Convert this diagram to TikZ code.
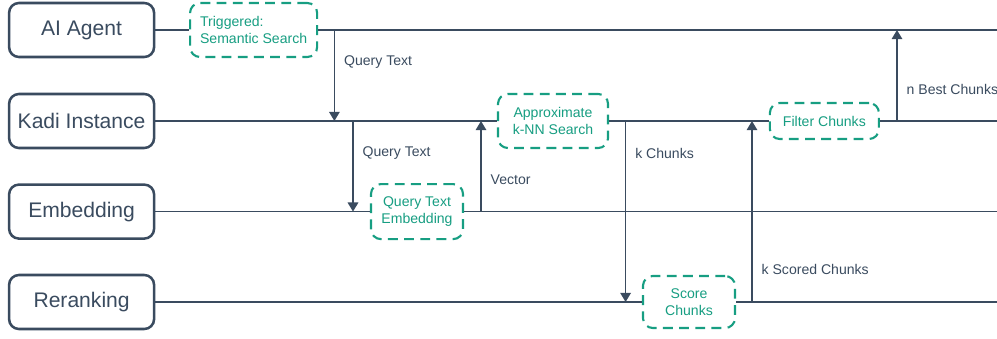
\documentclass[tikz,border=0pt]{standalone}
\usepackage{fontspec}
\setmainfont{Liberation Sans}
\usetikzlibrary{arrows.meta}
\definecolor{slate}{HTML}{3A4B5F}
\definecolor{teal}{HTML}{179E82}
\tikzset{
  actor/.style={draw=slate,line width=1.8pt,rounded corners=7pt,minimum width=3.625cm,minimum height=1.35cm,text=slate,font=\fontsize{15}{18}\selectfont},
  task/.style={draw=teal,fill=white,line width=1.5pt,dash pattern=on 7pt off 4.5pt,rounded corners=7pt,minimum height=1.35cm,text=teal,font=\fontsize{10}{12.3}\selectfont,align=center},
  life/.style={draw=slate,line width=1.1pt},
  msg/.style={draw=slate,line width=1.1pt,-{Triangle[width=7.5pt,length=6.5pt]}},
  lbl/.style={anchor=west,text=slate,font=\fontsize{10}{12}\selectfont,xshift=3pt}
}
\begin{document}
\begin{tikzpicture}
\useasboundingbox (0,0) rectangle (24.925,8.45);
\coordinate (rightedge) at (24.925,0);
% participants
\node[actor] (agent) at (2.04,7.7) {AI Agent};
\node[actor] (kadi) at (2.04,5.425) {Kadi Instance};
\node[actor] (embed) at (2.04,3.16) {Embedding};
\node[actor] (rerank) at (2.04,0.9) {Reranking};
% tasks
\node[task,minimum width=3.175cm,align=left] (trig) at (6.34,7.7) {Triggered:\\Semantic Search};
\node[task,minimum width=2.75cm] (knn) at (13.825,5.425) {Approximate\\k-NN Search};
\node[task,minimum width=2.3cm,minimum height=1.375cm] (qte) at (10.425,3.16) {Query Text\\Embedding};
\node[task,minimum width=2.725cm,minimum height=0.9cm] (filter) at (20.61,5.425) {Filter Chunks};
\node[task,minimum width=2.3cm,minimum height=1.3cm] (score) at (17.225,0.9) {Score\\Chunks};
% lifelines
\draw[life] (agent) -- (trig);
\draw[life] (trig) -- (trig -| rightedge);
\draw[life] (kadi) -- (knn);
\draw[life] (knn) -- (filter);
\draw[life] (filter) -- (filter -| rightedge);
\draw[life] (embed) -- (qte);
\draw[life] (qte) -- (qte -| rightedge);
\draw[life] (rerank) -- (score);
\draw[life] (score) -- (score -| rightedge);
% messages
\coordinate (m1) at (8.36,7.7);
\coordinate (m2) at (8.825,5.425);
\coordinate (m3) at (12.025,3.16);
\coordinate (m4) at (15.64,5.425);
\coordinate (m5) at (18.8,0.9);
\coordinate (m6) at (22.425,5.425);
\draw[msg] (m1) -- (m1 |- kadi) node[lbl,pos=0.35] {Query Text};
\draw[msg] (m2) -- (m2 |- embed) node[lbl,pos=0.35] {Query Text};
\draw[msg] (m3) -- (m3 |- kadi) node[lbl,pos=0.35] {Vector};
\draw[msg] (m4) -- (m4 |- rerank) node[lbl,pos=0.177] {k Chunks};
\draw[msg] (m5) -- (m5 |- kadi) node[lbl,pos=0.177] {k Scored Chunks};
\draw[msg] (m6) -- (m6 |- agent) node[lbl,pos=0.35] {n Best Chunks};
\end{tikzpicture}
\end{document}
